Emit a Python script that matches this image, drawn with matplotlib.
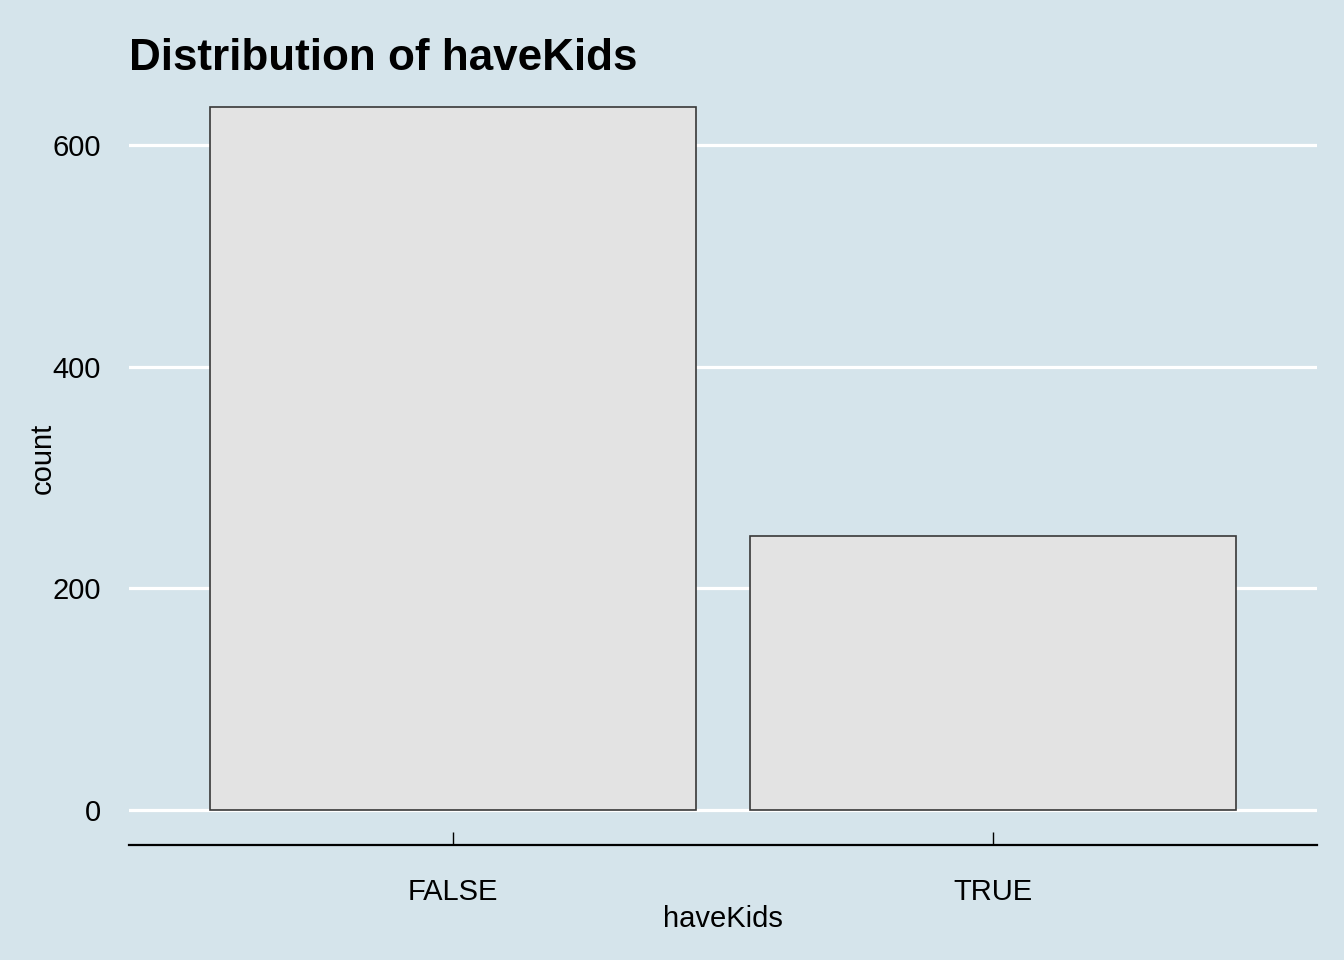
import matplotlib.pyplot as plt

# data
categories = ['FALSE', 'TRUE']
counts = [634, 247]
yticks = [0, 200, 400, 600]

bg = '#d5e4eb'
plt.rcParams['font.family'] = ['Liberation Sans', 'DejaVu Sans']

fig = plt.figure(figsize=(13.44, 9.6), dpi=100, facecolor=bg)
ax = fig.add_axes([129/1344, 1 - 845/960, (1317 - 129)/1344, (845 - 72)/960])
ax.set_facecolor(bg)

xpos = list(range(1, len(categories) + 1))
ax.bar(xpos, counts, width=0.9, color='#e3e3e3', edgecolor='#383838', linewidth=1.2, zorder=3)

ymax = max(counts)
ax.set_xlim(0.4, len(categories) + 0.6)
ax.set_ylim(-0.05 * ymax, 1.05 * ymax)

ax.set_yticks(yticks)
ax.set_yticklabels([str(t) for t in yticks])
ax.yaxis.grid(True, color='white', linewidth=2.3, zorder=0)
ax.xaxis.grid(False)

ax.set_xticks(xpos)
ax.set_xticklabels(categories)

for s in ['left', 'right', 'top']:
    ax.spines[s].set_visible(False)
ax.spines['bottom'].set_color('black')
ax.spines['bottom'].set_linewidth(1.6)

ax.tick_params(axis='x', direction='in', length=9.5, width=1.0, color='black', pad=24, labelsize=21)
ax.tick_params(axis='y', length=0, pad=20, labelsize=21)

ax.set_xlabel('haveKids', fontsize=21, labelpad=-1)
fig.text(43/1344, 1 - 458/960, 'count', rotation=90, fontsize=21, ha='center', va='center')

fig.text(129/1344, 1 - 70/960, 'Distribution of haveKids', fontsize=31.7, fontweight='bold',
         ha='left', va='baseline')

fig.savefig('out.png', dpi=100, facecolor=bg)
